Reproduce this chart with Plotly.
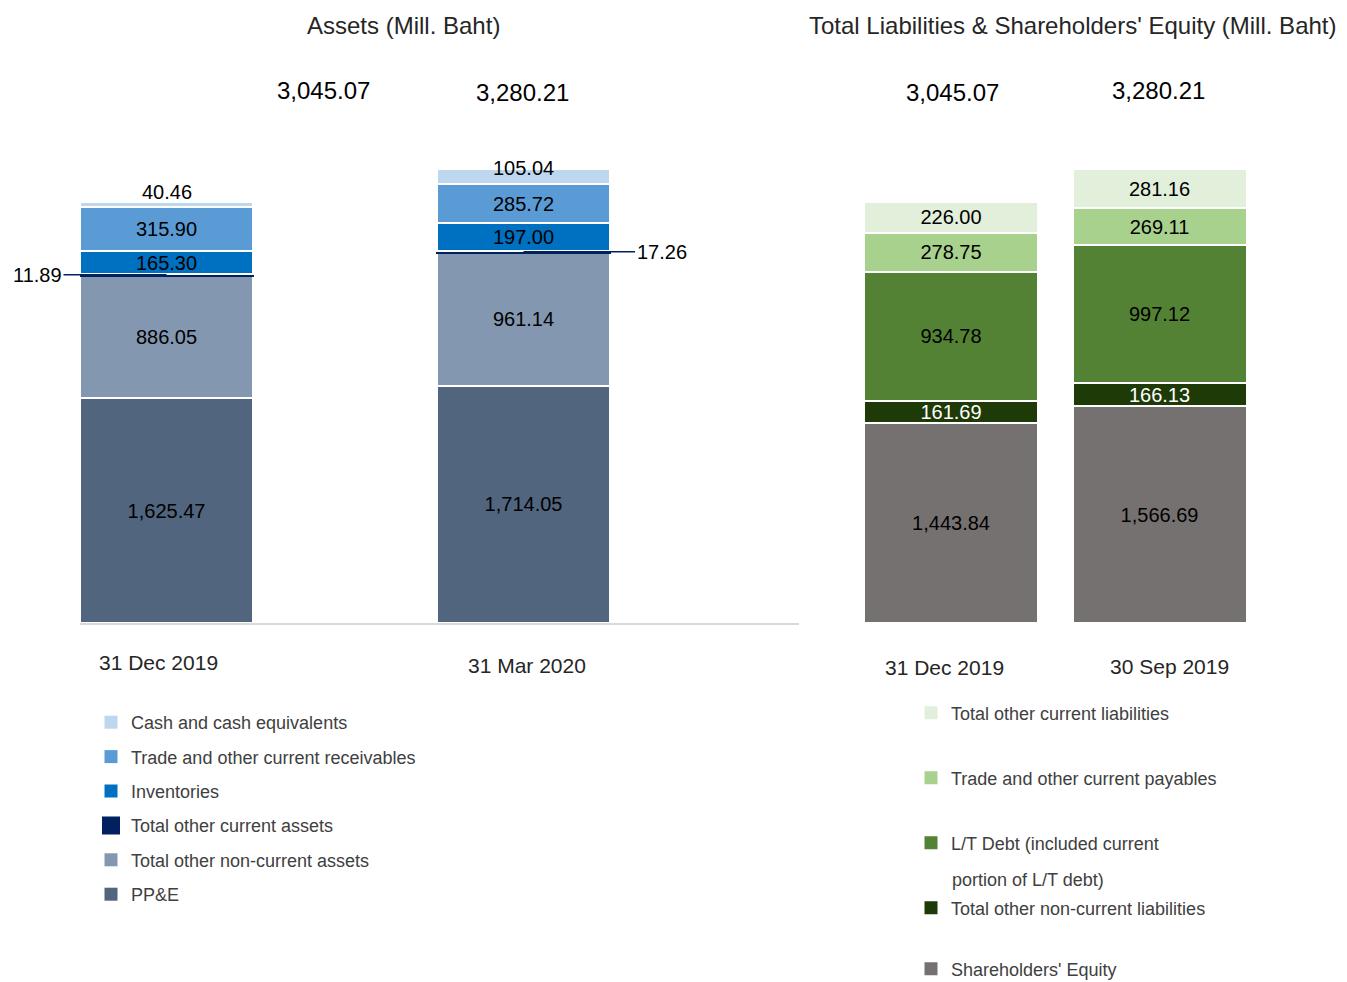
import plotly.graph_objects as go

# reference picture is 1347x982; the page body adds an 8px margin, so every
# reference pixel maps to figure pixel (p - 8)
REF_W, REF_H = 1347, 982
OFF = 8
W, H = REF_W - OFF, REF_H

# ---------------- data ----------------
asset_cats = ["31 Dec 2019", "31 Mar 2020"]
ppe = [1625.47, 1714.05]
other_noncurrent_assets = [886.05, 961.14]
other_current_assets = [11.89, 17.26]
inventories = [165.30, 197.00]
receivables = [315.90, 285.72]
cash = [40.46, 105.04]
asset_totals = [3045.07, 3280.21]

liab_cats = ["31 Dec 2019", "30 Sep 2019"]
equity = [1443.84, 1566.69]
other_noncurrent_liab = [161.69, 166.13]
lt_debt = [934.78, 997.12]
payables = [278.75, 269.11]
other_current_liab = [226.00, 281.16]
liab_totals = [3045.07, 3280.21]

FONT = "Liberation Sans"


def px_x(p):
    return (p - OFF) / W


def px_y(p):
    return 1 - (p - OFF) / H


def fmt(v):
    return f"{v:,.2f}"


fig = go.Figure()
white_line = dict(color="white", width=2)

# ---------- assets (left) ----------
asset_series = [
    ("PP&E", ppe, "#51657E", True),
    ("Total other non-current assets", other_noncurrent_assets, "#8497B0", True),
    ("Total other current assets", other_current_assets, "#002060", False),
    ("Inventories", inventories, "#0070C0", True),
    ("Trade and other current receivables", receivables, "#5B9BD5", True),
    ("Cash and cash equivalents", cash, "#BDD7EE", False),
]
for name, vals, col, lab in asset_series:
    line = dict(color="#002060", width=2) if name == "Total other current assets" else white_line
    fig.add_trace(go.Bar(
        x=asset_cats, y=vals, name=name, width=0.4846,
        marker=dict(color=col, line=line),
        text=[fmt(v) for v in vals] if lab else None,
        textposition="inside" if lab else "none",
        insidetextanchor="middle", textangle=0,
        textfont=dict(size=20, color="black", family=FONT),
        xaxis="x", yaxis="y", showlegend=False,
    ))

# legend entries (top to bottom)
for rank, (name, vals, col, lab) in enumerate(reversed(asset_series)):
    big = name == "Total other current assets"
    fig.add_trace(go.Scatter(
        x=[None], y=[None], mode="markers", name=name,
        marker=dict(symbol="square", size=16 if big else 13, color=col,
                    line=dict(color=col, width=2 if big else 0)),
        xaxis="x", yaxis="y", legend="legend", legendgroup=f"a{rank}",
        legendrank=rank + 1,
    ))

# ---------- liabilities (right) ----------
liab_series = [
    ("Shareholders' Equity", equity, "#767171", "black", "legend6"),
    ("Total other non-current liabilities", other_noncurrent_liab, "#1D3A07", "white", "legend5"),
    ("L/T Debt (included current", lt_debt, "#548235", "black", "legend4"),
    ("Trade and other current payables", payables, "#A9D18E", "black", "legend3"),
    ("Total other current liabilities", other_current_liab, "#E2EFDA", "black", "legend2"),
]
for name, vals, col, tcol, lg in liab_series:
    fig.add_trace(go.Bar(
        x=liab_cats, y=vals, name=name, width=0.8345,
        marker=dict(color=col, line=white_line),
        text=[fmt(v) for v in vals], textposition="inside",
        insidetextanchor="middle", textangle=0,
        textfont=dict(size=20, color=tcol, family=FONT),
        xaxis="x2", yaxis="y2", showlegend=False,
    ))
    fig.add_trace(go.Scatter(
        x=[None], y=[None], mode="markers", name=name,
        marker=dict(symbol="square", size=13, color=col),
        xaxis="x2", yaxis="y2", legend=lg,
    ))

YMAX = 523 / 0.1383
ydom = [px_y(623), px_y(100)]


def txt(size, color="#262626"):
    return dict(size=size, color=color, family=FONT)


annotations = []
# titles
annotations.append(dict(text="Assets (Mill. Baht)", xref="paper", yref="paper",
                        x=px_x(403), y=px_y(26), xanchor="center", yanchor="middle",
                        showarrow=False, font=txt(24)))
annotations.append(dict(text="Total Liabilities & Shareholders' Equity (Mill. Baht)",
                        xref="paper", yref="paper", x=px_x(1072), y=px_y(26),
                        xanchor="center", yanchor="middle", showarrow=False, font=txt(24)))
# totals
for cat, tot, xs, yp in zip(asset_cats, asset_totals, [157, -1], [91, 92]):
    annotations.append(dict(text=fmt(tot), xref="x", x=cat, xshift=xs, yref="paper", y=px_y(yp),
                            xanchor="center", yanchor="middle", showarrow=False,
                            font=txt(24, "black")))
for cat, tot, xs, yp in zip(liab_cats, liab_totals, [1, -1], [92, 91]):
    annotations.append(dict(text=fmt(tot), xref="x2", x=cat, xshift=xs, yref="paper", y=px_y(yp),
                            xanchor="center", yanchor="middle", showarrow=False,
                            font=txt(24, "black")))
# category labels
for cat, xs, yp in zip(asset_cats, [-8, 3], [662, 665]):
    annotations.append(dict(text=cat, xref="x", x=cat, xshift=xs, yref="paper", y=px_y(yp),
                            xanchor="center", yanchor="middle", showarrow=False, font=txt(21)))
for cat, xs, yp in zip(liab_cats, [-7, 10], [667, 666]):
    annotations.append(dict(text=cat, xref="x2", x=cat, xshift=xs, yref="paper", y=px_y(yp),
                            xanchor="center", yanchor="middle", showarrow=False, font=txt(21)))

# small segment labels
base_oc = [p + n for p, n in zip(ppe, other_noncurrent_assets)]
tops = [sum(v) for v in zip(ppe, other_noncurrent_assets, other_current_assets,
                             inventories, receivables, cash)]
annotations.append(dict(text=fmt(cash[0]), xref="x", yref="y", x=asset_cats[0], y=tops[0],
                        xanchor="center", yanchor="bottom", yshift=-3, showarrow=False,
                        font=txt(20, "black")))
annotations.append(dict(text=fmt(cash[1]), xref="x", yref="y", x=asset_cats[1], y=tops[1],
                        xanchor="center", yanchor="middle", yshift=1, showarrow=False,
                        font=txt(20, "black")))
annotations.append(dict(text=fmt(other_current_assets[0]), xref="x", yref="y",
                        x=asset_cats[0], y=base_oc[0] + other_current_assets[0] / 2,
                        ax=-129, ay=0, showarrow=True, arrowhead=0, arrowwidth=1.5,
                        arrowcolor="#002060", standoff=0, font=txt(20, "black")))
annotations.append(dict(text=fmt(other_current_assets[1]), xref="x", yref="y",
                        x=asset_cats[1], y=base_oc[1] + other_current_assets[1] / 2,
                        ax=138, ay=0, showarrow=True, arrowhead=0, arrowwidth=1.5,
                        arrowcolor="#002060", standoff=0, font=txt(20, "black")))
# continuation line of the wrapped legend entry
annotations.append(dict(text="portion of L/T debt)", xref="paper", yref="paper",
                        x=px_x(950), y=px_y(880), xanchor="left", yanchor="middle",
                        showarrow=False, font=txt(18, "#404040")))

legend_font = dict(size=18, color="#404040", family=FONT)
layout = dict(
    width=W, height=H,
    margin=dict(l=0, r=0, t=0, b=0, autoexpand=False),
    paper_bgcolor="white", plot_bgcolor="white",
    barmode="stack",
    font=dict(family=FONT),
    uniformtext=dict(minsize=20, mode="show"),
    xaxis=dict(domain=[px_x(80), px_x(799)], range=[-0.2423, 1.7717], showticklabels=False,
               showgrid=False, zeroline=False, showline=True, linecolor="#D9D9D9", linewidth=2,
               ticks="", layer="below traces", fixedrange=True),
    yaxis=dict(domain=ydom, range=[0, YMAX], visible=False, fixedrange=True),
    xaxis2=dict(domain=[px_x(850), px_x(1260)], range=[-0.4844, 1.482], showticklabels=False,
                showgrid=False, zeroline=False, showline=False, ticks="", anchor="y2"),
    yaxis2=dict(domain=ydom, range=[0, YMAX], visible=False, anchor="x2"),
    legend=dict(x=px_x(91), y=px_y(704), xanchor="left", yanchor="top",
                traceorder="grouped", tracegroupgap=8, font=legend_font,
                bgcolor="rgba(0,0,0,0)"),
    annotations=annotations,
    showlegend=True,
)
for lg, yp in zip(["legend2", "legend3", "legend4", "legend5", "legend6"],
                  [713, 778, 843, 908, 969]):
    layout[lg] = dict(x=px_x(911), y=px_y(yp), xanchor="left", yanchor="middle",
                      font=legend_font, bgcolor="rgba(0,0,0,0)")

fig.update_layout(**layout)
fig.write_html("out.html")
